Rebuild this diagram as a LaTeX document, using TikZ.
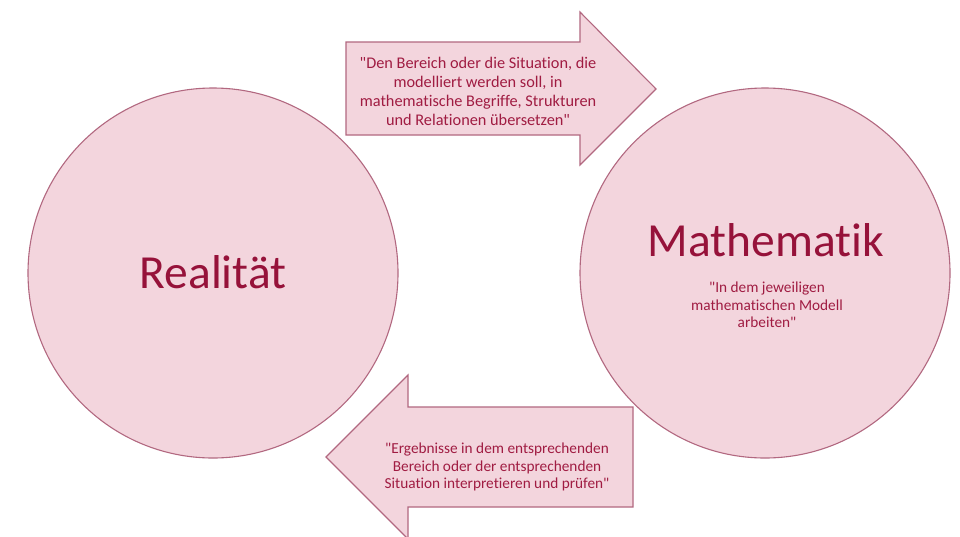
\documentclass[tikz,border=0pt]{standalone}
\usepackage{fontspec}
\setmainfont[Ligatures={TeXOff,NoCommon}]{Carlito}
\newcommand{\qm}{\symbol{34}}
\begin{document}
\definecolor{shapefill}{RGB}{243,213,221}
\definecolor{shapeline}{RGB}{178,104,128}
\definecolor{titlered}{RGB}{150,18,58}
\definecolor{textred}{RGB}{160,28,66}
\begin{tikzpicture}[x=1pt,y=-1pt,
  blob/.style={circle,draw=shapeline,fill=shapefill,line width=1.1pt,minimum size=370pt,inner sep=0pt},
  arrowshape/.style={draw=shapeline,fill=shapefill,line width=1.1pt,line join=miter},
  title/.style={text=titlered,font=\fontsize{47.5}{50}\selectfont},
  quote/.style={text=textred,align=center,font=\fontsize{16.3}{19}\selectfont},
  smallquote/.style={text=textred,align=center,font=\fontsize{15.3}{17.5}\selectfont}]
\useasboundingbox (0,0) rectangle (960,536);
\clip (0,0) rectangle (960,536);
\fill[white] (0,0) rectangle (960,536);

% the two worlds
\node[blob] (real) at (213,273) {};
\node[blob] (math) at (765,273) {};
\node[title] (realtitle) at (213,272) {Realität};
\node[title] (mathtitle) at (766,240) {Mathematik};
\node[smallquote] (work) at (767,305) {\qm In dem jeweiligen\\mathematischen Modell\\arbeiten\qm};

% translating arrow (reality to mathematics)
\draw[arrowshape] (346,42) -- (580,42) -- (580,12) -- (656,89) -- (580,165)
  -- (580,135) -- (346,135) -- cycle;
\node[quote] (translate) at (478,91) {\qm Den Bereich oder die Situation, die\\modelliert werden soll, in\\mathematische Begriffe, Strukturen\\und Relationen übersetzen\qm};

% interpreting arrow (mathematics back to reality)
\draw[arrowshape] (633,407) -- (408,407) -- (408,375) -- (326,457) -- (408,539)
  -- (408,507) -- (633,507) -- cycle;
\node[smallquote] (interpret) at (497,467) {\qm Ergebnisse in dem entsprechenden\\Bereich oder der entsprechenden\\Situation interpretieren und prüfen\qm};
\end{tikzpicture}
\end{document}
